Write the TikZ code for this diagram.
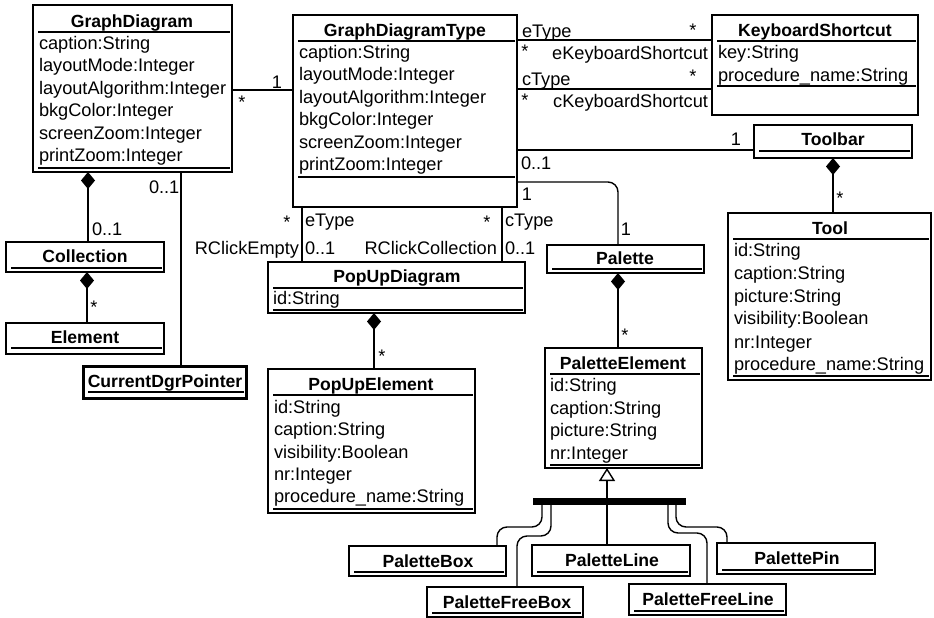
\documentclass[tikz,border=0pt]{standalone}
\usepackage{fontspec}
\setmainfont{Liberation Sans}
\usetikzlibrary{arrows.meta,calc}

% class box: name, left, top, right, bottom (y grows downwards)
\newcommand\umlclass[5]{\node[cls, minimum width={#4-#2}, minimum height={#5-#3}] (#1) at (#2,#3) {};}
% compartment separator inside a class box at height #2
\newcommand\usep[2]{\draw[sepl] ($(#1.north west |- 0,#2)+(5,0)$) -- ($(#1.north east |- 0,#2)+(-2,0)$);}

\begin{document}
\begin{tikzpicture}[x=1pt,y=-1pt,
  every node/.style={inner sep=0pt, outer sep=0pt},
  txt/.style={font=\fontsize{18.2}{22}\selectfont, text height=12.5pt, text depth=0pt},
  ttl/.style={font=\fontsize{17.6}{22}\selectfont\bfseries, text height=12.5pt, text depth=0pt},
  attr/.style={txt, anchor=west},
  cls/.style={draw=black, line width=1.4pt, anchor=north west, fill=white},
  sepl/.style={line width=1.7pt, draw=black},
  conn/.style={line width=1.4pt, draw=black},
  comp/.style={conn, {Diamond[width=14pt,length=17pt]}-},
  gen/.style={conn, -{Triangle[open,width=16pt,length=13pt,line width=1.4pt]}}
]
\useasboundingbox (0,0) rectangle (934,618);
\fill[white] (0,0) rectangle (934,618);

% ---------- GraphDiagram ----------
\umlclass{gd}{33}{5}{232}{172}
\node[ttl] (gdt0) at (132,21) {GraphDiagram};
\usep{gd}{32}
\node[attr] (gda1) at (39,43) {caption:String};
\node[attr] (gda2) at (39,65) {layoutMode:Integer};
\node[attr] (gda3) at (39,88) {layoutAlgorithm:Integer};
\node[attr] (gda4) at (39,110) {bkgColor:Integer};
\node[attr] (gda5) at (39,133) {screenZoom:Integer};
\node[attr] (gda6) at (39,155) {printZoom:Integer};
\usep{gd}{168}

% ---------- GraphDiagramType ----------
\umlclass{gdt}{293}{15}{517}{207}
\node[ttl] (gdtt) at (405,30) {GraphDiagramType};
\usep{gdt}{41}
\node[attr] (gdta1) at (299,52) {caption:String};
\node[attr] (gdta2) at (299,74) {layoutMode:Integer};
\node[attr] (gdta3) at (299,97) {layoutAlgorithm:Integer};
\node[attr] (gdta4) at (299,119) {bkgColor:Integer};
\node[attr] (gdta5) at (299,142) {screenZoom:Integer};
\node[attr] (gdta6) at (299,164) {printZoom:Integer};
\usep{gdt}{177}

% ---------- KeyboardShortcut ----------
\umlclass{ks}{712}{15}{918}{115}
\node[ttl] (kst) at (815,30) {KeyboardShortcut};
\usep{ks}{41}
\node[attr] (ksa1) at (718,52) {key:String};
\node[attr] (ksa2) at (718,75) {procedure\_name:String};
\usep{ks}{86}

% ---------- Toolbar ----------
\umlclass{tb}{754}{125}{912}{158}
\node[ttl] (tbt) at (833,139) {Toolbar};
\usep{tb}{151}

% ---------- Tool ----------
\umlclass{tool}{728}{213}{931}{380}
\node[ttl] (toolt) at (830,228) {Tool};
\usep{tool}{239}
\node[attr] (toola1) at (734,250) {id:String};
\node[attr] (toola2) at (734,273) {caption:String};
\node[attr] (toola3) at (734,296) {picture:String};
\node[attr] (toola4) at (734,318) {visibility:Boolean};
\node[attr] (toola5) at (734,342) {nr:Integer};
\node[attr] (toola6) at (734,364) {procedure\_name:String};
\usep{tool}{376}

% ---------- Palette ----------
\umlclass{pal}{547}{245}{704}{273}
\node[ttl] (palt) at (625,258) {Palette};
\usep{pal}{269}

% ---------- PaletteElement ----------
\umlclass{pel}{545}{348}{702}{468}
\node[ttl] (pelt) at (623,363) {PaletteElement};
\usep{pel}{374}
\node[attr] (pela1) at (550,385) {id:String};
\node[attr] (pela2) at (550,408) {caption:String};
\node[attr] (pela3) at (550,430) {picture:String};
\node[attr] (pela4) at (550,453) {nr:Integer};
\usep{pel}{465}

% ---------- PopUpDiagram ----------
\umlclass{pud}{268}{262}{525}{313}
\node[ttl] (pudt) at (397,276) {PopUpDiagram};
\usep{pud}{288}
\node[attr] (puda1) at (273,298) {id:String};
\usep{pud}{310}

% ---------- PopUpElement ----------
\umlclass{pue}{268}{369}{475}{513}
\node[ttl] (puet) at (371,384) {PopUpElement};
\usep{pue}{395}
\node[attr] (puea1) at (274,407) {id:String};
\node[attr] (puea2) at (274,429) {caption:String};
\node[attr] (puea3) at (274,452) {visibility:Boolean};
\node[attr] (puea4) at (274,474) {nr:Integer};
\node[attr] (puea5) at (274,496) {procedure\_name:String};
\usep{pue}{509}

% ---------- Collection / Element ----------
\umlclass{coll}{6}{242}{164}{272}
\node[ttl] (collt) at (85,256) {Collection};
\usep{coll}{268}
\umlclass{elem}{6}{323}{164}{354}
\node[ttl] (elemt) at (85,337) {Element};
\usep{elem}{348}

% ---------- CurrentDgrPointer ----------
\node[cls, line width=3pt, minimum width=163, minimum height=32] (cdp) at (83,366) {};
\node[ttl] (cdpt) at (165,381) {CurrentDgrPointer};
\usep{cdp}{392}

% ---------- Palette subclasses ----------
\umlclass{pbox}{349}{546}{506}{576}
\node[ttl] (pboxt) at (428,561) {PaletteBox};
\usep{pbox}{572}
\umlclass{pline}{532}{545}{690}{576}
\node[ttl] (plinet) at (612,560) {PaletteLine};
\usep{pline}{572}
\umlclass{ppin}{717}{543}{875}{574}
\node[ttl] (ppint) at (797,558) {PalettePin};
\usep{ppin}{570}
\umlclass{pfbox}{427}{587}{583}{617}
\node[ttl] (pfboxt) at (507,602) {PaletteFreeBox};
\usep{pfbox}{613}
\umlclass{pfline}{629}{584}{786}{615}
\node[ttl] (pflinet) at (708,599) {PaletteFreeLine};
\usep{pfline}{611}

% ---------- generalization ----------
\node[fill=black, minimum width=153, minimum height=7, anchor=north west] (gbar) at (533,498) {};
\draw[gen] (pline.north -| 607,0) -- (pel.south -| 607,0);
\draw[conn, rounded corners=10pt] (gbar.south -| 542,0) -- (542,527) -- (497,527) -- (pbox.north -| 497,0);
\draw[conn, rounded corners=10pt] (gbar.south -| 551,0) -- (551,536) -- (517,536) -- (pfbox.north -| 517,0);
\draw[conn, rounded corners=10pt] (gbar.south -| 668,0) -- (668,533) -- (707,533) -- (pfline.north -| 707,0);
\draw[conn, rounded corners=10pt] (gbar.south -| 676,0) -- (676,527) -- (727,527) -- (ppin.north -| 727,0);

% ---------- associations ----------
\draw[conn] (gd.east |- 0,90) -- (gdt.west |- 0,90);
\node[txt] (m1) at (277,82) {1};
\node[txt] (m2) at (242,102) {*};

\draw[comp] (gd.south -| 88,0) -- (coll.north -| 88,0);
\node[attr] (m3) at (92,229) {0..1};
\draw[comp] (coll.south -| 87,0) -- (elem.north -| 87,0);
\node[txt] (m4) at (94,307) {*};

\draw[conn] (gd.south -| 181,0) -- (cdp.north -| 181,0);
\node[attr] (m5) at (149,187) {0..1};

\draw[conn] (gdt.east |- 0,40) -- (ks.west |- 0,40);
\node[attr] (m6) at (522,31) {eType};
\node[txt] (m7) at (693,30) {*};
\node[txt] (m8) at (525,51) {*};
\node[txt, anchor=east] (m9) at (708,53) {eKeyboardShortcut};

\draw[conn] (gdt.east |- 0,89) -- (ks.west |- 0,89);
\node[attr] (m10) at (522,79) {cType};
\node[txt] (m11) at (693,76) {*};
\node[txt] (m12) at (525,100) {*};
\node[txt, anchor=east] (m13) at (708,101) {cKeyboardShortcut};

\draw[conn] (gdt.east |- 0,150) -- (tb.west |- 0,150);
\node[txt] (m14) at (736,139) {1};
\node[attr] (m15) at (521,163) {0..1};

\draw[conn, rounded corners=10pt] (gdt.east |- 0,182) -- (618,182) -- (pal.north -| 618,0);
\node[txt] (m16) at (527,194) {1};
\node[txt] (m17) at (626,229) {1};

\draw[conn] (gdt.south -| 302,0) -- (pud.north -| 302,0);
\node[txt] (m18) at (287,222) {*};
\node[attr] (m19) at (305,220) {eType};
\node[txt, anchor=east] (m20) at (299,248) {RClickEmpty};
\node[attr] (m21) at (305,248) {0..1};

\draw[conn] (gdt.south -| 502,0) -- (pud.north -| 502,0);
\node[txt] (m22) at (487,222) {*};
\node[attr] (m23) at (505,220) {cType};
\node[txt, anchor=east] (m24) at (497,248) {RClickCollection};
\node[attr] (m25) at (505,248) {0..1};

\draw[comp] (tb.south -| 833,0) -- (tool.north -| 833,0);
\node[txt] (m26) at (840,198) {*};

\draw[comp] (pal.south -| 618,0) -- (pel.north -| 618,0);
\node[txt] (m27) at (625,335) {*};

\draw[comp] (pud.south -| 374,0) -- (pue.north -| 374,0);
\node[txt] (m28) at (382,356) {*};
\end{tikzpicture}
\end{document}
